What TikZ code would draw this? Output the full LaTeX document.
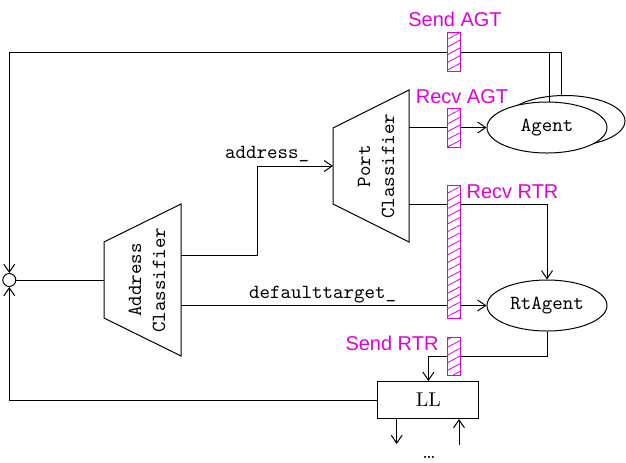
\documentclass[tikz,border=0pt]{standalone}
\usepackage{fontspec}
\newfontfamily\labelfont{Liberation Sans}
\usetikzlibrary{arrows.meta,patterns.meta,shapes.geometric}
\definecolor{mag}{RGB}{221,0,221}
\begin{document}
\begin{tikzpicture}[x=0.5pt,y=-0.5pt,
  line width=0.5pt,
  >={Straight Barb[length=4pt,width=5.5pt]},
  ell/.style={draw, ellipse, fill=white, minimum width=60pt, minimum height=25.5pt, inner sep=0pt, font=\ttfamily},
  llbox/.style={draw, rectangle, minimum width=50.5pt, minimum height=18.5pt, inner sep=0pt},
  joint/.style={draw, circle, minimum size=6.5pt, inner sep=0pt},
  hatch/.style={draw=mag, line width=0.5pt, preaction={fill=white},
    pattern={Lines[angle=28,distance=3.4pt,line width=0.4pt]}, pattern color=mag,
    minimum width=6.5pt, inner sep=0pt},
  maglabel/.style={text=mag, font=\labelfont\fontsize{10}{12}\selectfont, anchor=base, inner sep=0pt},
  ttlabel/.style={font=\ttfamily, anchor=base, inner sep=0pt},
  rottext/.style={rotate=90, align=center, font=\ttfamily, inner sep=0pt}
]
\useasboundingbox (0,0) rectangle (626,462);

% classifiers
\draw (104,242) -- (181,204) -- (181,356) -- (104,318) -- cycle;
\node[rottext] (addrtxt) at (147,280) {Address\\Classifier};
\draw (333,128) -- (409,90) -- (409,242) -- (333,204) -- cycle;
\node[rottext] (porttxt) at (376,166) {Port\\Classifier};

\coordinate (aIn) at (104,280);
\coordinate (aO1) at (181,255);
\coordinate (aO2) at (181,305.5);
\coordinate (pIn) at (333,166);
\coordinate (pO1) at (409,127.5);
\coordinate (pO2) at (409,204);
\coordinate (kink) at (257,166);

% agents
\node[ell] (agentB) at (565,121) {};
\node[ell] (agent) at (547,127.5) {Agent};
\node[ell] (rtagent) at (547,305.5) {RtAgent};
\node[llbox] (ll) at (428.4,400) {LL};
\node[joint] (join) at (9.3,280) {};

\coordinate (tA) at (549,52);
\coordinate (tB) at (561,52);
\coordinate (tL) at (9.3,52);
\coordinate (k2) at (428.4,356);
\coordinate (o1) at (396.7,444);
\coordinate (i1) at (459,445);

% connectors
\draw (agent.north -| tA) -- (tA);
\draw[->] (agentB.north -| tB) -- (tB) -- (tL) -- (join.north);
\draw[->] (ll.west) -- (ll.west -| join) -- (join.south);
\draw (aIn) -- (join.east);
\draw[->] (aO1) -| (kink) -- (pIn);
\draw[->] (aO2) -- (rtagent.west);
\draw[->] (pO1) -- (agent.west);
\draw[->] (pO2) -| (rtagent.north);
\draw[->] (rtagent.south) |- (k2) -- (ll.north);
\draw[->] (ll.south -| o1) -- (o1);
\draw[->] (i1) -- (ll.south -| i1);
\node[anchor=base, inner sep=0pt] (dots) at (429,458) {\dots};

% labels
\node[ttlabel] (addrlbl) at (267,158) {address\_};
\node[ttlabel] (deflbl) at (322.5,298) {defaulttarget\_};

% hatched boxes
\node[hatch, minimum height=19.5pt] (sendagt) at (453.5,51.5) {};
\node[hatch, minimum height=19.5pt] (recvagt) at (453.5,127.5) {};
\node[hatch, minimum height=66.5pt] (recvrtr) at (453.5,251.5) {};
\node[hatch, minimum height=19pt] (sendrtr) at (453.5,356) {};

\node[maglabel] (sendagtlbl) at (455,26.7) {Send AGT};
\node[maglabel] (recvagtlbl) at (462,103) {Recv AGT};
\node[maglabel] (recvrtrlbl) at (512.5,198) {Recv RTR};
\node[maglabel] (sendrtrlbl) at (392,350) {Send RTR};
\end{tikzpicture}
\end{document}
